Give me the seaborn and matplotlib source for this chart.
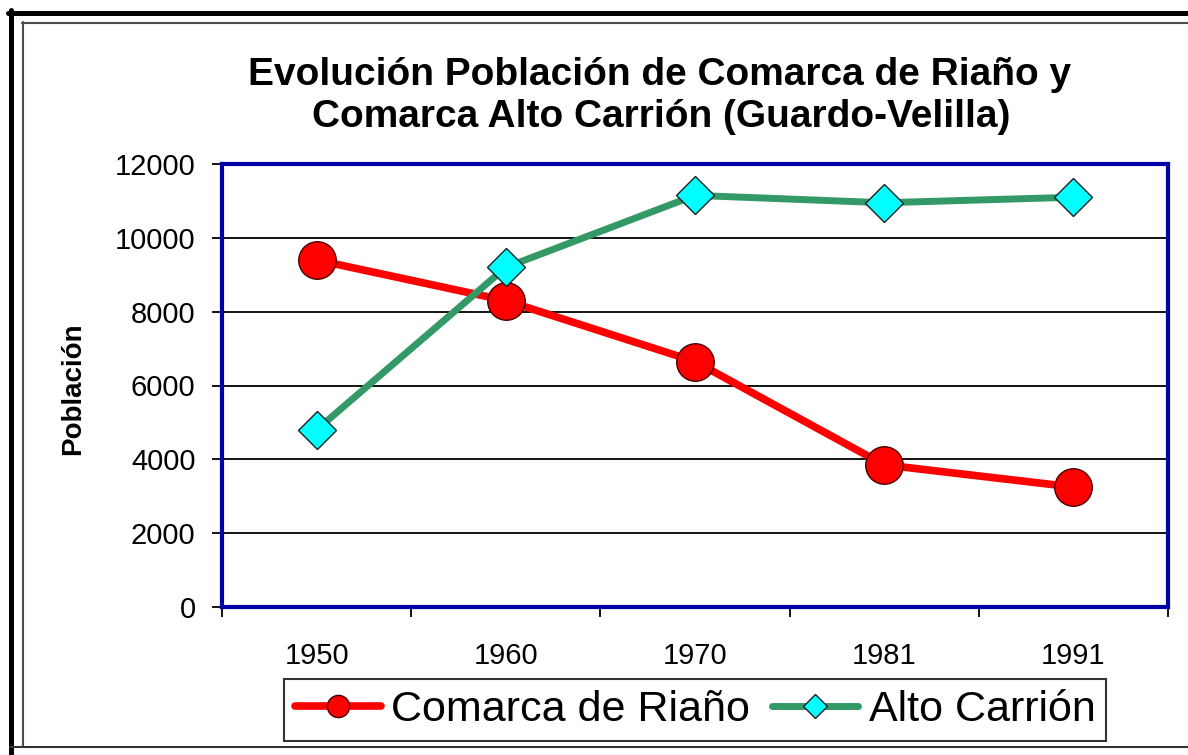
import matplotlib
matplotlib.use("Agg")
import matplotlib.pyplot as plt
import seaborn as sns
from matplotlib.lines import Line2D
from matplotlib.ticker import FixedLocator, NullFormatter

# data
years = ["1950", "1960", "1970", "1981", "1991"]
riano = [9400, 8300, 6650, 3850, 3250]
alto_carrion = [4800, 9200, 11150, 10950, 11100]
y_ticks = [0, 2000, 4000, 6000, 8000, 10000, 12000]

sns.set_theme(style="white")
plt.rcParams['font.family'] = ['Liberation Sans', 'DejaVu Sans']
plt.rcParams['text.color'] = "black"
plt.rcParams['axes.labelcolor'] = "black"
plt.rcParams['xtick.color'] = "black"
plt.rcParams['ytick.color'] = "black"

W, H = 1188, 755
fig = plt.figure(figsize=(W / 100, H / 100), dpi=100)
fig.patch.set_facecolor("white")

# plot area placed like the Excel original
ax = fig.add_axes([222 / W, 1 - 607 / H, 946 / W, 443 / H])

sns.lineplot(x=years, y=riano, ax=ax, color="#FF0000", lw=5.5, marker="o",
             markersize=27, markerfacecolor="#FF0000", markeredgecolor="#4a0000",
             markeredgewidth=1, label="Comarca de Riaño", sort=False, zorder=3)
sns.lineplot(x=years, y=alto_carrion, ax=ax, color="#339966", lw=5, marker="D",
             markersize=19, markerfacecolor="#00FFFF", markeredgecolor="#202020",
             markeredgewidth=1, label="Alto Carrión", sort=False, zorder=4)

ax.set_xlim(-0.5, len(years) - 0.5)
ax.set_ylim(0, 12000)
ax.set_yticks(y_ticks)
ax.set_yticklabels([str(v) for v in y_ticks])
ax.set_xlabel("")
ax.set_ylabel("")

# horizontal gridlines in black
for v in y_ticks[1:-1]:
    ax.axhline(v, color="black", lw=1.3, zorder=1)

for side in ax.spines.values():
    side.set_color("#0000A8")
    side.set_linewidth(3)

# category labels at centres, tick marks between categories
ax.tick_params(axis="x", which="major", length=0, pad=25, labelsize=21, labelcolor="black")
ax.xaxis.set_minor_locator(FixedLocator([i - 0.5 for i in range(len(years) + 1)]))
ax.xaxis.set_minor_formatter(NullFormatter())
ax.tick_params(axis="x", which="minor", bottom=True, direction="out", length=7,
               width=1.3, color="black")
ax.tick_params(axis="y", which="major", left=True, direction="out", length=7,
               width=1.3, color="black", pad=12, labelsize=21, labelcolor="black")

# title
fig.text(660 / W, 1 - 75 / H, "Evolución Población de Comarca de Riaño y",
         ha="center", va="center", fontsize=28, fontweight="bold", color="black")
fig.text(661 / W, 1 - 117 / H, "Comarca Alto Carrión (Guardo-Velilla)",
         ha="center", va="center", fontsize=28, fontweight="bold", color="black")

fig.text(73 / W, 1 - 389 / H, "Población", rotation=90, ha="center", va="center",
         fontsize=20, fontweight="bold", color="black")

leg = ax.legend(loc="center", bbox_to_anchor=(695 / W, 1 - 710 / H),
                bbox_transform=fig.transFigure, ncol=2, fontsize=31,
                frameon=True, fancybox=False, shadow=False, handlelength=2.0,
                handletextpad=0.25, columnspacing=0.5, borderpad=0.25,
                borderaxespad=0)
leg.get_frame().set_edgecolor("black")
leg.get_frame().set_linewidth(1.5)
for t in leg.get_texts():
    t.set_color("black")
for h in leg.legend_handles:
    h.set_markersize(16 if h.get_marker() == "o" else 12)

# outer chart frame (cut off at right and bottom like the source)
def px_line(xs, ys, color, lw):
    fig.add_artist(Line2D([x / W for x in xs], [1 - y / H for y in ys],
                          transform=fig.transFigure, color=color, lw=lw))

px_line([8, W], [12.5, 12.5], "black", 3.6)
px_line([10.5, 10.5], [10, H], "black", 3.6)
px_line([22, W], [23, 23], "#4d4d4d", 1.5)
px_line([23, 23], [22, 747], "#4d4d4d", 1.5)
px_line([10, W], [747, 747], "#333333", 1.5)

fig.savefig("out.png", dpi=100)
